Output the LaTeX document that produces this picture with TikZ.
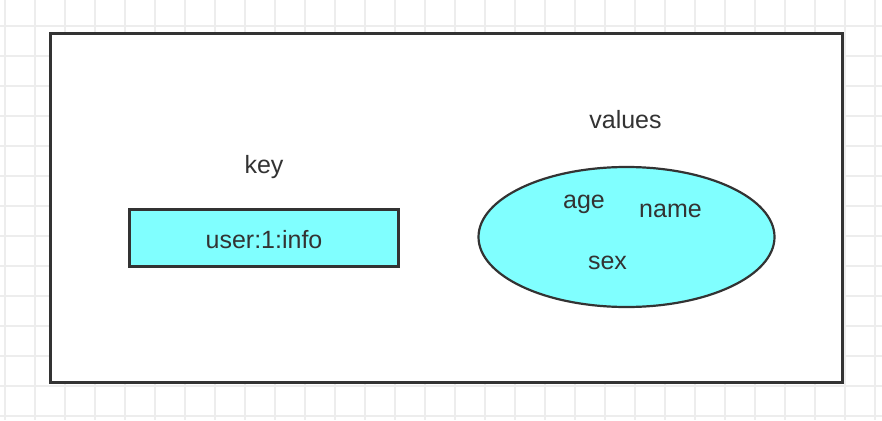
\documentclass[tikz,border=0pt]{standalone}
\usepackage{fontspec}
\setmainfont{Liberation Sans}
\usetikzlibrary{shapes.geometric}
\definecolor{gridc}{HTML}{EDEDED}
\definecolor{linec}{HTML}{333333}
\definecolor{cyanfill}{HTML}{80FFFF}
\tikzset{
  lbl/.style={anchor=base, text=linec, font=\fontsize{25}{30}\selectfont, inner sep=0pt},
  frame/.style={draw=linec, line width=3pt, fill=white},
  keybox/.style={draw=linec, line width=3pt, fill=cyanfill},
  valell/.style={draw=linec, line width=2.2pt, fill=cyanfill}
}
\begin{document}
\begin{tikzpicture}[x=1pt, y=-1pt]
\useasboundingbox (0,0) rectangle (882,420);
% grid
\foreach \i in {0,...,29} {
  \draw[gridc, line width=1.5pt] ({5+30*\i},0) -- ({5+30*\i},420);
}
\foreach \j in {0,...,13} {
  \draw[gridc, line width=1.5pt] (0,{26+30*\j}) -- (882,{26+30*\j});
}
% outer frame
\draw[frame] (50,34) rectangle (842,382);
% key box
\node[keybox, minimum width=269pt, minimum height=57pt, inner sep=0pt] (keyrect) at (263.5,237.5) {};
\node[lbl] (keytxt) at (264,248) {user:1:info};
\node[lbl] (keylbl) at (264,173) {key};
% values ellipse
\node[valell, ellipse, minimum width=296pt, minimum height=140pt, inner sep=0pt] (valrect) at (626.5,237) {};
\node[lbl] (vallbl) at (625.5,128) {values};
\node[lbl] (age) at (584,208) {age};
\node[lbl] (name) at (670.5,217) {name};
\node[lbl] (sex) at (607.5,269) {sex};
\end{tikzpicture}
\end{document}
